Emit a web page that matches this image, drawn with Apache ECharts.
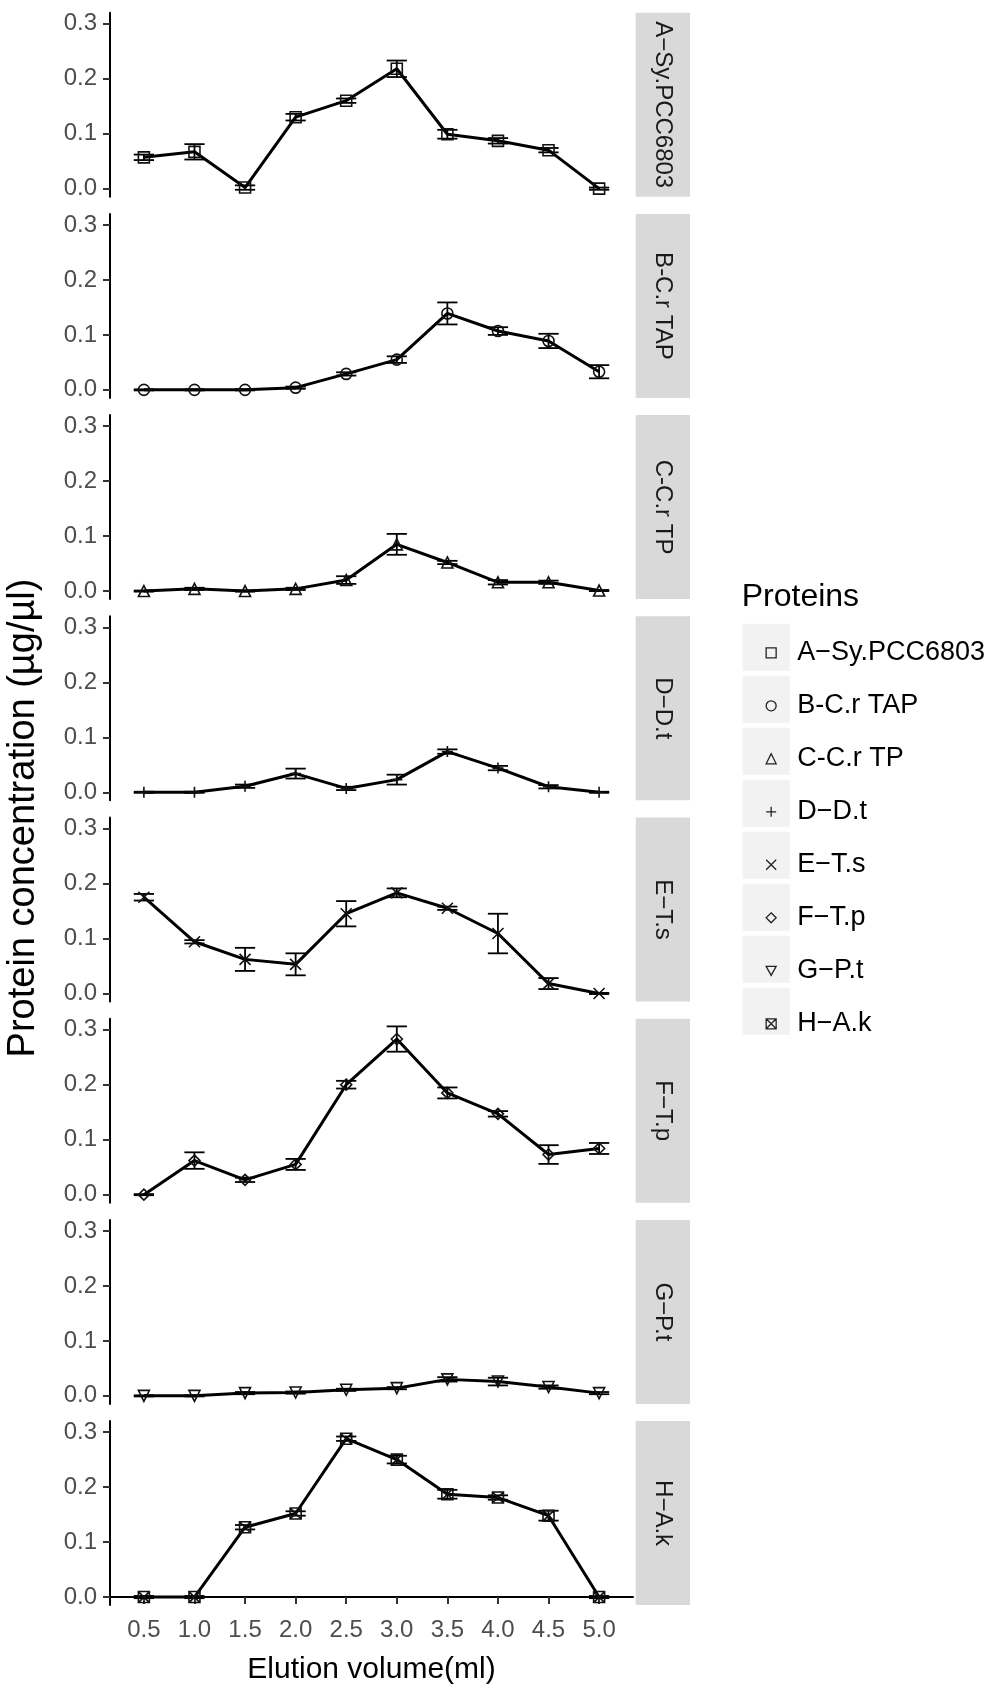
<!DOCTYPE html>
<html>
<head>
<meta charset="utf-8">
<script src="https://cdn.jsdelivr.net/npm/echarts@6/dist/echarts.min.js"></script>
<style>
  html, body { margin: 0; padding: 0; background: #fff; }
  #chart { width: 992px; height: 1689px; }
</style>
</head>
<body>
<div id="chart"></div>
<script>
// elution volumes (ml)
var volumes = [0.5, 1.0, 1.5, 2.0, 2.5, 3.0, 3.5, 4.0, 4.5, 5.0];
var yTicks = [0, 0.1, 0.2, 0.3];

var proteins = ['A\u2212Sy.PCC6803', 'B-C.r TAP', 'C-C.r TP', 'D\u2212D.t',
  'E\u2212T.s', 'F\u2212T.p', 'G\u2212P.t', 'H\u2212A.k'];

// mean concentration and error per protein
var meanA = [0.057, 0.067, 0.002, 0.130, 0.160, 0.218, 0.099, 0.087, 0.070, 0.000];
var errA  = [0.005, 0.014, 0.004, 0.006, 0.004, 0.015, 0.008, 0.005, 0.004, 0.002];
var meanB = [0.000, 0.000, 0.000, 0.004, 0.029, 0.055, 0.139, 0.107, 0.089, 0.033];
var errB  = [0.001, 0.001, 0.001, 0.002, 0.003, 0.006, 0.020, 0.007, 0.013, 0.012];
var meanC = [0.000, 0.004, 0.000, 0.004, 0.020, 0.085, 0.052, 0.016, 0.016, 0.001];
var errC  = [0.001, 0.002, 0.001, 0.002, 0.007, 0.019, 0.003, 0.004, 0.003, 0.001];
var meanD = [0.000, 0.000, 0.011, 0.034, 0.007, 0.023, 0.074, 0.044, 0.010, 0.000];
var errD  = [0.001, 0.001, 0.003, 0.009, 0.003, 0.009, 0.004, 0.004, 0.003, 0.001];
var meanE = [0.175, 0.094, 0.062, 0.053, 0.145, 0.183, 0.155, 0.109, 0.018, 0.000];
var errE  = [0.006, 0.003, 0.021, 0.020, 0.023, 0.008, 0.003, 0.036, 0.010, 0.001];
var meanF = [0.000, 0.062, 0.027, 0.055, 0.200, 0.283, 0.185, 0.147, 0.073, 0.084];
var errF  = [0.001, 0.015, 0.004, 0.010, 0.007, 0.023, 0.010, 0.005, 0.017, 0.010];
var meanG = [0.000, 0.000, 0.005, 0.006, 0.011, 0.014, 0.030, 0.026, 0.016, 0.005];
var errG  = [0.001, 0.001, 0.002, 0.002, 0.002, 0.002, 0.004, 0.007, 0.003, 0.002];
var meanH = [0.000, 0.000, 0.127, 0.152, 0.288, 0.250, 0.187, 0.181, 0.148, 0.000];
var errH  = [0.002, 0.002, 0.004, 0.004, 0.004, 0.007, 0.008, 0.004, 0.009, 0.002];

var means = [meanA, meanB, meanC, meanD, meanE, meanF, meanG, meanH];
var errs = [errA, errB, errC, errD, errE, errF, errG, errH];

// R shapes 0..7
var symbols = [
  'rect',
  'circle',
  'triangle',
  'path://M5 0 L5 10 M0 5 L10 5',
  'path://M0 0 L10 10 M10 0 L0 10',
  'diamond',
  'path://M0 0 L10 0 L5 9 Z',
  'path://M0 0 L10 0 L10 10 L0 10 Z M0 0 L10 10 M10 0 L0 10'
];

var font = "'Liberation Sans', Arial, sans-serif";
var left = 110, plotW = 523, top0 = 12.7, step = 201.2, panelH = 184;
var stripX = 635.7, stripW = 54.3;
var capHalf = 0.1;

var grids = [], xAxes = [], yAxes = [], series = [], graphics = [];

proteins.forEach(function (name, i) {
  var top = top0 + i * step;
  var last = i === proteins.length - 1;
  grids.push({ left: left, top: top, width: plotW, height: panelH });

  xAxes.push({
    type: 'value', gridIndex: i, min: 0.165, max: 5.335,
    show: last,
    name: last ? 'Elution volume(ml)' : '',
    nameLocation: 'middle', nameGap: 50,
    nameTextStyle: { fontFamily: font, fontSize: 30, color: '#000' },
    axisLine: { show: true, lineStyle: { color: '#000', width: 2 } },
    axisTick: { show: true, length: 7, customValues: volumes, lineStyle: { color: '#333', width: 2 } },
    axisLabel: {
      show: true, customValues: volumes, margin: 13,
      fontFamily: font, fontSize: 24, color: '#4d4d4d',
      formatter: function (v) { return v.toFixed(1); }
    },
    splitLine: { show: false }
  });

  yAxes.push({
    type: 'value', gridIndex: i, min: -0.0146, max: 0.32,
    axisLine: { show: true, lineStyle: { color: '#000', width: 2 } },
    axisTick: { show: true, length: 7, customValues: yTicks, lineStyle: { color: '#333', width: 2 } },
    axisLabel: {
      customValues: yTicks, margin: 13,
      fontFamily: font, fontSize: 24, color: '#4d4d4d',
      formatter: function (v) { return v.toFixed(1); }
    },
    splitLine: { show: false }
  });

  var mean = means[i], err = errs[i];

  series.push({
    type: 'custom', name: 'err' + i,
    xAxisIndex: i, yAxisIndex: i,
    data: volumes.map(function (v, j) { return [v, mean[j] - err[j], mean[j] + err[j]]; }),
    renderItem: function (params, api) {
      var x = api.value(0), lo = api.value(1), hi = api.value(2);
      var a = api.coord([x, lo]), b = api.coord([x, hi]);
      var tl = api.coord([x - capHalf, hi]), tr = api.coord([x + capHalf, hi]);
      var bl = api.coord([x - capHalf, lo]), br = api.coord([x + capHalf, lo]);
      var st = { stroke: '#000', lineWidth: 1.8 };
      return {
        type: 'group',
        children: [
          { type: 'line', shape: { x1: a[0], y1: a[1], x2: b[0], y2: b[1] }, style: st },
          { type: 'line', shape: { x1: tl[0], y1: tl[1], x2: tr[0], y2: tr[1] }, style: st },
          { type: 'line', shape: { x1: bl[0], y1: bl[1], x2: br[0], y2: br[1] }, style: st }
        ]
      };
    },
    z: 3
  });

  series.push({
    type: 'line', name: name,
    xAxisIndex: i, yAxisIndex: i,
    data: volumes.map(function (v, j) { return [v, mean[j]]; }),
    symbol: symbols[i], symbolSize: 11, showAllSymbol: true,
    lineStyle: { color: '#000', width: 3 },
    itemStyle: { color: 'rgba(0,0,0,0)', borderColor: '#111', borderWidth: 1.6 },
    z: 4
  });

  // facet strip
  graphics.push({
    type: 'rect', shape: { x: stripX, y: top, width: stripW, height: panelH },
    style: { fill: '#d9d9d9' }, z: 1
  });
  graphics.push({
    type: 'text', x: stripX + stripW / 2, y: top + panelH / 2, rotation: -Math.PI / 2,
    style: { text: name, fontFamily: font, fontSize: 24, fill: '#1a1a1a', align: 'center', verticalAlign: 'middle' },
    z: 2
  });
});

// legend key backgrounds and title
var legendTop = 647.3, legendStep = 52;
proteins.forEach(function (name, i) {
  graphics.push({
    type: 'rect', shape: { x: 742.7, y: legendTop + i * legendStep - 23.5, width: 47, height: 47 },
    style: { fill: '#f2f2f2' }, z: 1
  });
});
graphics.push({
  type: 'text', x: 741.7, y: 596.7,
  style: { text: 'Proteins', fontFamily: font, fontSize: 32, fill: '#000', align: 'left', verticalAlign: 'middle' },
  z: 2
});
// y title
graphics.push({
  type: 'text', x: 24, y: 818, rotation: Math.PI / 2,
  style: { text: 'Protein concentration (\u00b5g/\u00b5l)', fontFamily: font, fontSize: 38, fill: '#000', align: 'center', verticalAlign: 'middle' },
  z: 2
});

var chart = echarts.init(document.getElementById('chart'), null, { renderer: 'canvas' });
chart.setOption({
  animation: false,
  backgroundColor: '#fff',
  grid: grids,
  xAxis: xAxes,
  yAxis: yAxes,
  series: series,
  graphic: graphics,
  legend: {
    orient: 'vertical', left: 760.5, top: legendTop - 13,
    itemWidth: 10, itemHeight: 10, itemGap: 26,
    selectedMode: false,
    data: proteins.map(function (n, i) { return { name: n, icon: symbols[i] }; }),
    itemStyle: { color: 'rgba(0,0,0,0)', borderColor: '#222', borderWidth: 1.3 },
    textStyle: { fontFamily: font, fontSize: 27, color: '#000', lineHeight: 26, padding: [0, 0, 0, 16] }
  }
});
</script>
</body>
</html>
